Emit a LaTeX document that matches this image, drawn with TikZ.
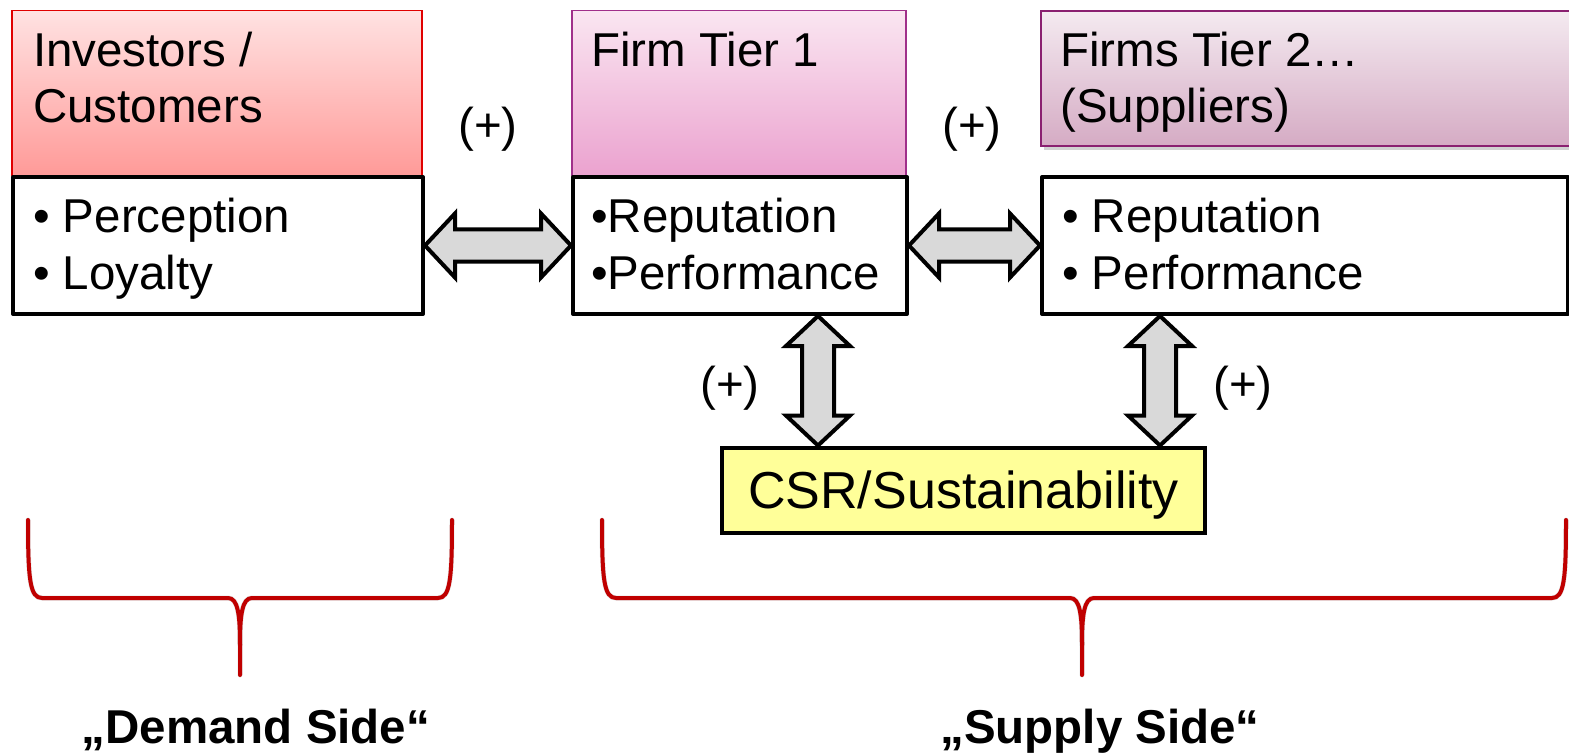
\documentclass[tikz,border=0pt]{standalone}
\usepackage{fontspec}
\setmainfont{Liberation Sans}
\usetikzlibrary{calc}
\definecolor{braceRed}{HTML}{C00000}
\definecolor{invTop}{HTML}{FFE2E2}
\definecolor{invBot}{HTML}{FF9A98}
\definecolor{invLine}{HTML}{E00000}
\definecolor{fOneTop}{HTML}{FAE6F1}
\definecolor{fOneBot}{HTML}{EBA2CF}
\definecolor{fOneLine}{HTML}{A0308A}
\definecolor{fTwoTop}{HTML}{F4EAF0}
\definecolor{fTwoBot}{HTML}{D5ABC4}
\definecolor{fTwoLine}{HTML}{8A2070}
\definecolor{csrFill}{HTML}{FFFF99}
\definecolor{arrFill}{HTML}{D9D9D9}
\newcommand\harrowdraw[2]{%
  \draw[dblarrow] let \p1=(#1), \p2=(#2), \n1={\x2-\x1-60pt} in
    (\p1) -- ++(30pt,32pt) -- ++(0pt,-16pt) -- ++({\n1*1pt},0pt) -- ++(0pt,16pt)
    -- (\p2) -- ++(-30pt,-32pt) -- ++(0pt,16pt) -- ++({-\n1*1pt},0pt) -- ++(0pt,-16pt) -- cycle;}
\newcommand\varrowdraw[2]{%
  \draw[dblarrow] let \p1=(#1), \p2=(#2), \n1={\y1-\y2-60pt} in
    (\p1) -- ++(32pt,-30pt) -- ++(-16pt,0pt) -- ++(0pt,{-\n1*1pt}) -- ++(16pt,0pt)
    -- (\p2) -- ++(-32pt,30pt) -- ++(16pt,0pt) -- ++(0pt,{\n1*1pt}) -- ++(-16pt,0pt) -- cycle;}
\begin{document}
\begin{tikzpicture}[x=1pt,y=-1pt,
  txt/.style={anchor=base west, inner sep=0pt, font=\fontsize{47.5}{56}\selectfont},
  plus/.style={anchor=base, inner sep=0pt, font=\fontsize{47.5}{56}\selectfont},
  sidelabel/.style={anchor=base, inner sep=0pt, font=\fontsize{47.5}{56}\selectfont\bfseries},
  hdr/.style={anchor=north west, inner sep=0pt, line width=1.5pt},
  wbox/.style={anchor=north west, inner sep=0pt, draw=black, fill=white, line width=4pt, line join=round},
  dblarrow/.style={draw=black, fill=arrFill, line width=4pt, line join=miter},
  bracepath/.style={draw=braceRed, line width=4pt, line cap=round, line join=round},
  braceshadow/.style={draw=black, opacity=0.12, line width=5pt, line cap=round}]
\useasboundingbox (0,0) rectangle (1569,754);

% header boxes
\node[hdr, draw=invLine, top color=invTop, bottom color=invBot,
  minimum width=410, minimum height=165] (invH) at (11,10) {};
\node[hdr, draw=fOneLine, top color=fOneTop, bottom color=fOneBot,
  minimum width=334, minimum height=165] (f1H) at (571,10) {};
\fill[black, opacity=0.18] (1044,15) rectangle (1572,150);
\node[hdr, draw=fTwoLine, line width=2pt, top color=fTwoTop, bottom color=fTwoBot,
  minimum width=532, minimum height=135] (f2H) at (1040,10) {};

% white boxes
\node[wbox, minimum width=410, minimum height=137] (invB) at (11,175) {};
\node[wbox, minimum width=334, minimum height=137] (f1B) at (571,175) {};
\node[wbox, minimum width=526, minimum height=137] (f2B) at (1040,175) {};

% CSR box
\node[draw=black, fill=csrFill, line width=4pt, inner sep=0pt,
  minimum width=483, minimum height=85, text height=37pt, text depth=0pt,
  font=\fontsize{52}{60}\selectfont] (csr) at (963.5,490) {CSR/Sustainability};

% texts
\node[txt] (invT1) at (33,67) {Investors /};
\node[txt] (invT2) at (33,123) {Customers};
\node[txt] (invL1) at (33,233) {• Perception};
\node[txt] (invL2) at (33,289) {• Loyalty};
\node[txt] (f1T1) at (591,67) {Firm Tier 1};
\node[txt] (f1L1) at (591,233) {•Reputation};
\node[txt] (f1L2) at (591,289) {•Performance};
\node[txt] (f2T1) at (1060,67) {Firms Tier 2…};
\node[txt] (f2T2) at (1060,123) {(Suppliers)};
\node[txt] (f2L1) at (1062,233) {• Reputation};
\node[txt] (f2L2) at (1062,289) {• Performance};

% plus labels
\node[plus] (p1) at (488,142) {(+)};
\node[plus] (p2) at (972,142) {(+)};
\node[plus] (p3) at (730,400) {(+)};
\node[plus] (p4) at (1243,400) {(+)};

% arrows
\harrowdraw{invB.east}{f1B.west}
\harrowdraw{f1B.east}{f2B.west}
\coordinate (vx1) at (818,0);
\coordinate (vx2) at (1160,0);
\varrowdraw{f1B.south -| vx1}{csr.north -| vx1}
\varrowdraw{f2B.south -| vx2}{csr.north -| vx2}

% braces
\coordinate (bd1) at (28,520);
\coordinate (bd2) at (452,520);
\coordinate (bdtip) at (240,675);
\coordinate (bs1) at (602,520);
\coordinate (bs2) at (1566,520);
\coordinate (bstip) at (1082,675);
\foreach \a/\b/\t/\sh in {bd1/bd2/bdtip/braceshadow, bd1/bd2/bdtip/bracepath, bs1/bs2/bstip/braceshadow, bs1/bs2/bstip/bracepath}{
  \path[\sh] let \p1=(\a), \p2=(\b), \p3=(\t) in
    (\x1,\y1) .. controls (\x1,{\y1-60pt}) and ({\x1+2pt},{\y1-78pt}) .. ({\x1+14pt},{\y1-78pt})
    -- ({\x3-12pt},{\y1-78pt}) .. controls ({\x3-2pt},{\y1-78pt}) and (\x3,{\y1-95pt}) .. (\x3,{\y1-125pt})
    -- (\x3,\y3);
  \path[\sh] let \p1=(\a), \p2=(\b), \p3=(\t) in
    (\x2,\y2) .. controls (\x2,{\y2-60pt}) and ({\x2-2pt},{\y2-78pt}) .. ({\x2-14pt},{\y2-78pt})
    -- ({\x3+12pt},{\y2-78pt}) .. controls ({\x3+2pt},{\y2-78pt}) and (\x3,{\y2-95pt}) .. (\x3,{\y2-125pt});
}

% side labels
\node[sidelabel] (demand) at (256,743) {„Demand Side“};
\node[sidelabel] (supply) at (1100,743) {„Supply Side“};
\end{tikzpicture}
\end{document}
